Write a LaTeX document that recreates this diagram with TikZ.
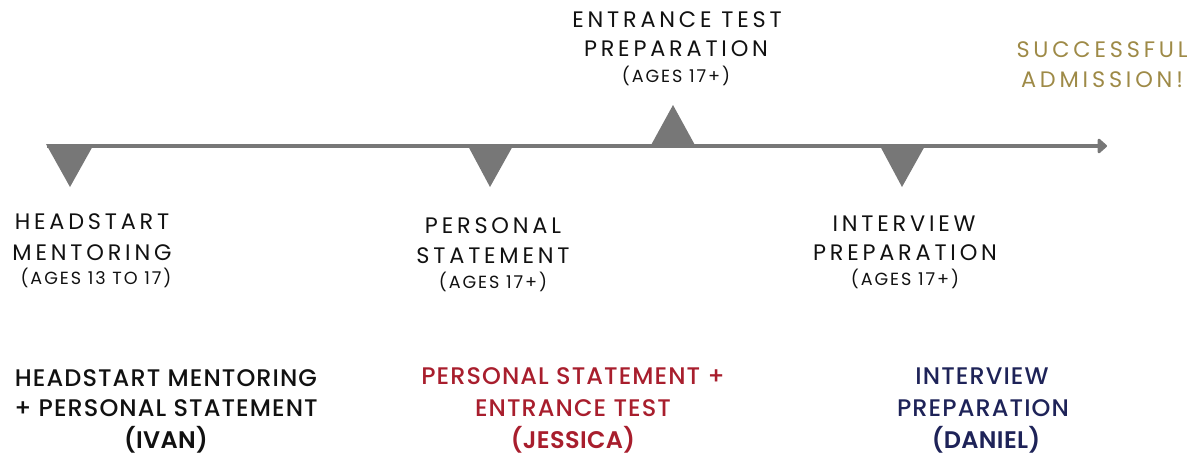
\documentclass[tikz,border=0pt]{standalone}
\usepackage{fontspec}
\usetikzlibrary{arrows.meta}
\newfontfamily\labfont[LetterSpace=17]{Poppins}
\newfontfamily\agefont[LetterSpace=11]{Poppins}
\newfontfamily\botfont[LetterSpace=4.5]{Poppins Medium}
\newfontfamily\botbfont[LetterSpace=1.5]{Poppins SemiBold}
\definecolor{lineg}{HTML}{777777}
\definecolor{gold}{HTML}{9E8A47}
\definecolor{cred}{HTML}{A81E2D}
\definecolor{navy}{HTML}{1E2358}
\definecolor{txt}{HTML}{111111}
\tikzset{
  lab/.style={font=\labfont\fontsize{11.2}{12}\selectfont, anchor=base, inner sep=0pt, text=txt},
  age/.style={font=\agefont\fontsize{8.8}{9}\selectfont, anchor=base, inner sep=0pt, text=txt},
  bot/.style={font=\botfont\fontsize{12}{13}\selectfont, anchor=base, inner sep=0pt},
  botb/.style={font=\botbfont\fontsize{12}{13}\selectfont, anchor=base, inner sep=0pt},
}
\begin{document}
\begin{tikzpicture}[x=0.5pt,y=-0.5pt]
\useasboundingbox (0,0) rectangle (1200,456);
% timeline
\coordinate (start) at (47,146);
\coordinate (end) at (1107,146);
\draw[lineg, line width=2.4pt, -{Triangle[length=5pt,width=8.5pt,round]}] (start) -- (end);
% markers
\fill[lineg] (46,144) -- (94,144) -- (70,187) -- cycle;
\fill[lineg] (467,144) -- (514,144) -- (490,187) -- cycle;
\fill[lineg] (650,147) -- (696,147) -- (673,105) -- cycle;
\fill[lineg] (879,144) -- (926,144) -- (902,187) -- cycle;
% stage labels
\node[lab] (h1) at (92,229) {HEADSTART};
\node[lab] (h2) at (92,260) {MENTORING};
\node[age] (h3) at (96,284) {(AGES 13 TO 17)};
\node[lab] (p1) at (493,233) {PERSONAL};
\node[lab] (p2) at (493,263) {STATEMENT};
\node[age] (p3) at (493,288) {(AGES 17+)};
\node[lab] (e1) at (677,27) {ENTRANCE TEST};
\node[lab] (e2) at (676,56) {PREPARATION};
\node[age] (e3) at (676,82) {(AGES 17+)};
\node[lab] (i1) at (904,231) {INTERVIEW};
\node[lab] (i2) at (905,260) {PREPARATION};
\node[age] (i3) at (905,285) {(AGES 17+)};
\node[lab, text=gold] (s1) at (1102,57) {SUCCESSFUL};
\node[lab, text=gold] (s2) at (1102,87) {ADMISSION!};
% student labels
\node[bot, text=txt] (a1) at (166,386) {HEADSTART MENTORING};
\node[bot, text=txt] (a2) at (166,416) {+ PERSONAL STATEMENT};
\node[botb, text=txt] (a3) at (166,448) {(IVAN)};
\node[bot, text=cred] (b1) at (573,384) {PERSONAL STATEMENT +};
\node[bot, text=cred] (b2) at (573,416) {ENTRANCE TEST};
\node[botb, text=cred] (b3) at (573,448) {(JESSICA)};
\node[bot, text=navy] (c1) at (982,384) {INTERVIEW};
\node[bot, text=navy] (c2) at (983,416) {PREPARATION};
\node[botb, text=navy] (c3) at (986,448) {(DANIEL)};
\end{tikzpicture}
\end{document}
